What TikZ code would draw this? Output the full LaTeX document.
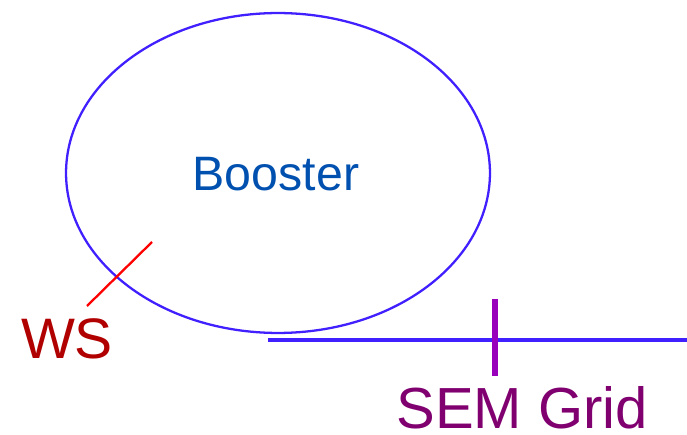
\documentclass[tikz,border=0pt]{standalone}
\usepackage{fontspec}
\setmainfont{Liberation Sans}
\usetikzlibrary{shapes.geometric}
\definecolor{ringblue}{RGB}{64,32,255}
\definecolor{boostblue}{RGB}{0,80,176}
\definecolor{wsred}{RGB}{176,0,0}
\definecolor{semtick}{RGB}{153,0,187}
\definecolor{semtext}{RGB}{128,0,112}
\tikzset{
  ring/.style={ellipse, draw=ringblue, line width=1.3pt, inner sep=0pt,
               minimum width=8.48cm, minimum height=6.4cm},
  beam/.style={draw=ringblue, line width=1.8pt},
  lbl/.style={font=\fontsize{#1}{#1}\selectfont, inner sep=0pt},
}
\begin{document}
\begin{tikzpicture}[x=0.02cm, y=-0.02cm]
  \useasboundingbox (0,0) rectangle (687,435);
  \node[ring] (booster) at (278,173) {};
  \node[lbl=27.5, text=boostblue] (name) at (276,174) {Booster};
  % beam line out of the ring
  \coordinate (beamA) at (268,340);
  \coordinate (beamB) at (687,340);
  \draw[beam] (beamA) -- (beamB);
  % wire scanner
  \coordinate (wsA) at (87,306);
  \coordinate (wsB) at (152,242);
  \draw[red, line width=1.3pt] (wsA) -- (wsB);
  \node[lbl=32.5, text=wsred] (ws) at (67,339) {WS};
  % SEM grid
  \coordinate (semA) at (495,299);
  \coordinate (semB) at (495,376);
  \draw[semtick, line width=3.4pt] (semA) -- (semB);
  \node[lbl=33, text=semtext] (sem) at (522,408) {SEM Grid};
\end{tikzpicture}
\end{document}
